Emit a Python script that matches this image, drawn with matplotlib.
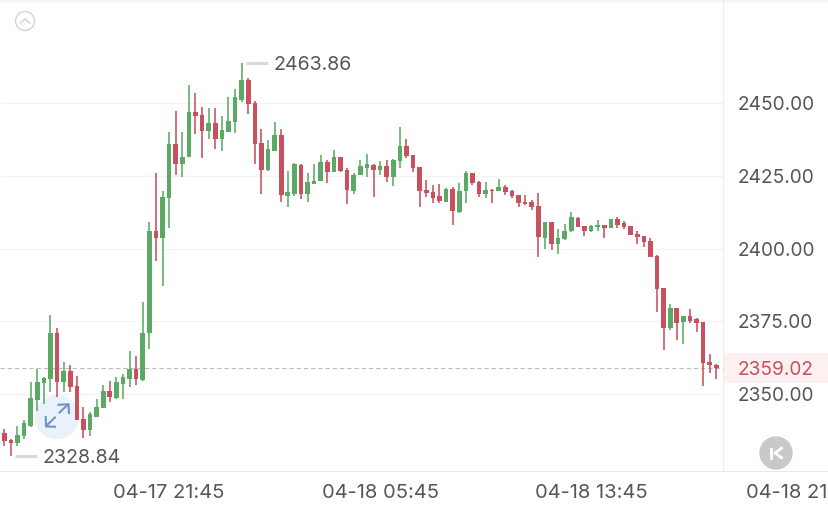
import matplotlib
matplotlib.use("Agg")
import matplotlib.pyplot as plt
from matplotlib.patches import Circle, Rectangle
import numpy as np

plt.rcParams['font.family'] = ['Inter', 'DejaVu Sans']

opens = [2336.7,2334.2,2333.1,2335.6,2339.1,2348.0,2353.9,2355.2,2370.9,2354.0,
         2358.0,2352.8,2341.3,2337.7,2342.2,2345.3,2351.1,2348.5,2353.6,2355.3,
         2358.6,2354.8,2370.8,2406.1,2403.7,2417.5,2435.9,2429.0,2431.3,2447.0,
         2445.9,2440.4,2443.2,2437.6,2440.1,2443.6,2451.2,2457.9,2449.9,2436.1,
         2427.0,2433.6,2439.0,2418.1,2418.9,2428.7,2418.7,2422.2,2423.1,2429.8,
         2426.2,2431.5,2427.0,2419.9,2425.1,2427.8,2428.7,2427.0,2428.4,2424.5,
         2429.9,2435.2,2432.0,2427.9,2420.1,2419.3,2417.9,2416.1,2420.5,2412.5,
         2419.6,2425.8,2423.0,2418.8,2420.1,2419.7,2421.1,2419.9,2418.3,2416.0,
         2415.9,2414.6,2403.7,2409.0,2401.4,2403.1,2406.0,2410.5,2407.6,2405.9,
         2407.5,2408.1,2407.0,2410.0,2408.6,2407.7,2405.1,2404.2,2402.7,2397.5,
         2386.4,2372.6,2379.4,2374.6,2376.9,2375.7,2374.7,2360.9,2360.1]
highs = [2337.9,2334.4,2339.1,2341.1,2354.1,2358.5,2355.9,2377.1,2372.6,2360.9,
         2360.0,2356.2,2345.4,2343.7,2348.2,2353.0,2354.5,2355.8,2356.9,2364.9,
         2363.1,2381.5,2409.1,2425.8,2419.9,2439.9,2447.4,2439.9,2456.2,2453.5,
         2448.5,2448.2,2448.2,2445.4,2451.9,2454.8,2463.86,2458.7,2450.8,2441.1,
         2437.3,2443.3,2441.1,2426.6,2429.3,2428.9,2425.8,2428.9,2432.1,2430.4,
         2433.9,2431.6,2427.6,2425.9,2430.5,2432.4,2429.0,2430.1,2430.4,2430.8,
         2441.7,2437.7,2432.2,2428.0,2423.6,2421.9,2422.2,2420.7,2421.3,2422.4,
         2426.7,2425.9,2423.2,2422.8,2420.4,2423.8,2421.9,2420.1,2418.5,2418.4,
         2416.7,2419.2,2409.2,2409.2,2406.8,2408.4,2412.4,2410.7,2407.7,2408.0,
         2409.8,2408.2,2410.1,2410.7,2409.6,2407.8,2406.1,2404.4,2403.7,2397.6,
         2386.5,2380.9,2379.5,2376.9,2379.3,2376.1,2374.9,2363.7,2360.2]
lows = [2332.3,2328.84,2332.2,2334.4,2338.8,2344.2,2346.6,2350.6,2348.9,2350.7,
        2350.8,2340.9,2335.0,2335.4,2342.0,2345.1,2347.4,2348.2,2348.2,2352.5,
        2353.0,2354.5,2365.4,2395.7,2387.1,2407.1,2425.2,2424.4,2431.3,2439.3,
        2431.0,2437.6,2434.2,2433.6,2440.1,2439.8,2450.4,2446.2,2428.9,2418.7,
        2426.7,2433.5,2416.1,2414.1,2418.1,2416.9,2416.1,2422.2,2423.1,2422.6,
        2426.2,2426.4,2415.3,2418.8,2425.1,2424.5,2417.6,2425.3,2422.9,2421.5,
        2427.8,2431.2,2426.4,2414.2,2417.6,2415.8,2415.5,2416.0,2408.0,2412.1,
        2415.5,2421.9,2417.6,2417.3,2415.8,2419.6,2418.3,2417.2,2414.2,2414.9,
        2413.2,2397.0,2399.8,2399.5,2398.1,2402.9,2405.8,2407.3,2404.4,2405.8,
        2406.0,2403.7,2406.9,2407.2,2406.8,2404.5,2401.4,2400.4,2397.0,2378.2,
        2365.1,2372.0,2368.6,2367.2,2374.5,2371.4,2352.9,2357.1,2355.0]
closes = [2333.9,2333.1,2335.8,2339.9,2348.5,2354.1,2355.6,2370.9,2354.0,2358.0,
          2352.5,2341.1,2337.7,2343.0,2345.7,2351.1,2348.9,2354.0,2355.8,2358.6,
          2355.2,2371.1,2406.1,2403.6,2417.6,2435.9,2429.0,2431.5,2447.0,2445.5,
          2440.5,2443.2,2437.6,2440.7,2443.8,2452.0,2457.9,2449.6,2435.9,2427.0,
          2434.2,2439.0,2418.4,2419.3,2428.9,2418.7,2422.7,2423.3,2429.6,2426.2,
          2431.6,2426.8,2420.1,2425.3,2428.2,2429.0,2427.0,2428.4,2424.5,2430.4,
          2435.2,2431.8,2427.6,2419.9,2419.0,2417.4,2416.2,2420.6,2413.0,2419.9,
          2426.1,2422.4,2418.8,2420.1,2419.9,2421.1,2419.3,2417.9,2415.8,2415.3,
          2414.1,2403.8,2409.0,2401.4,2403.6,2406.1,2410.7,2407.5,2406.1,2407.7,
          2408.2,2407.2,2410.0,2408.2,2407.3,2404.6,2403.9,2402.1,2397.1,2386.1,
          2372.8,2379.7,2374.5,2376.8,2375.1,2374.3,2360.5,2359.8,2359.02]

price_ticks = [2350.00, 2375.00, 2400.00, 2425.00, 2450.00]
last_price = 2359.02
time_positions = [25, 57, 89, 118.6]
time_labels = ['04-17 21:45', '04-18 05:45', '04-18 13:45', '04-18 21']

RED, GREEN = '#c9505f', '#5aaa66'
TXT = '#555759'
GRID = '#f3f3f3'
W, H = 829, 507
PX_STEP, PX_X0 = 6.593, 4.3       # pixels per candle, pixel of first candle
PX_UNIT, PX_2450 = 2.91, 103.0    # pixels per price unit, pixel row of 2450
AX_BOTTOM = 471
EDGE = (723 - PX_X0) / PX_STEP    # boundary of the price panel, in candles
FS_Y, FS_X, FS_MARK = 13.75, 14.5, 14.1

fig = plt.figure(figsize=(W / 100, H / 100), dpi=100, facecolor='white')
ax = fig.add_axes([0, (H - AX_BOTTOM) / H, 1, AX_BOTTOM / H])
ax.set_xlim(-PX_X0 / PX_STEP, (W - PX_X0) / PX_STEP)
ax.set_ylim(2450 - (AX_BOTTOM - PX_2450) / PX_UNIT, 2450 + PX_2450 / PX_UNIT)
ax.set_facecolor('none')
for s in ('top', 'left', 'right'):
    ax.spines[s].set_visible(False)
ax.spines['bottom'].set_color('#e9e9e9')
ax.spines['bottom'].set_linewidth(0.8)

o, h, l, c = map(np.array, (opens, highs, lows, closes))
xs = np.arange(len(o))
colors = [GREEN if b > a else RED for a, b in zip(o, c)]

ax.hlines(price_ticks, ax.get_xlim()[0], EDGE, color=GRID, lw=1, zorder=1)
ax.axvline(EDGE, color='#efefef', lw=1, zorder=1)

# last-price band and dashed line
ax.add_patch(Rectangle((EDGE + 0.2, last_price - 15 / PX_UNIT), 30, 30 / PX_UNIT,
                       color='#fdf0f1', lw=0, zorder=1))
ax.hlines(last_price, ax.get_xlim()[0], EDGE, color='#bdbdbd', lw=0.8,
          linestyles=(0, (4, 2.5)), zorder=1.5)

# expand button, under the candles
px = fig.add_axes([0, 0, 1, 1], facecolor='none', zorder=-1)
px.set_xlim(0, W); px.set_ylim(H, 0); px.axis('off')
px.add_patch(Rectangle((0, 0), W, 2.5, color='#f6f6f6', lw=0))
px.add_patch(Circle((57, 417), 22, color='#e9f1fb', lw=0))

ax.vlines(xs, l, h, colors=colors, lw=1.15, zorder=3)
ax.bar(xs, np.abs(c - o), bottom=np.minimum(o, c), width=0.7, color=colors, lw=0, zorder=4)

ax.yaxis.tick_right()
yt = price_ticks + [last_price]
ax.set_yticks(yt, [f'{v:.2f}' for v in yt])
# negative pad (points) brings the labels back inside the panel, starting at x = 737 px
ax.tick_params(axis='y', length=0, pad=-66, labelsize=FS_Y, labelcolor=TXT)
for lab in ax.get_yticklabels():
    lab.set_horizontalalignment('left')
    lab.set_verticalalignment('center_baseline')
ax.get_yticklabels()[-1].set_color(RED)
ax.set_xticks(time_positions, time_labels)
ax.tick_params(axis='x', length=0, pad=9, labelsize=FS_X, labelcolor=TXT)

# high and low markers
for idx, val in ((int(np.argmax(h)), h.max()), (int(np.argmin(l)), l.min())):
    ax.hlines(val, idx + 0.65, idx + 4, color='#d9d9d9', lw=2.3, zorder=2)
    ax.text(idx + 4.85, val, f'{val:.2f}', color=TXT, fontsize=FS_MARK,
            va='center_baseline', ha='left')

# icon overlay
top = fig.add_axes([0, 0, 1, 1], facecolor='none', zorder=5)
top.set_xlim(0, W); top.set_ylim(H, 0); top.axis('off')
top.add_patch(Circle((25, 21), 9.5, fill=False, ec='#cfcfcf', lw=0.9))
top.plot([20.5, 25, 29.5], [23, 19, 23], color='#c4c4c4', lw=0.8)
ARROW = '#7092c4'
top.plot([59.5, 68], [412.5, 404.5], color=ARROW, lw=1.5)
top.plot([58.5, 68.5, 69], [404.8, 404.3, 413], color=ARROW, lw=1.5)
top.plot([55, 46.5], [417.5, 425.5], color=ARROW, lw=1.5)
top.plot([45.7, 46, 55], [417, 426.5, 426.7], color=ARROW, lw=1.5)
top.add_patch(Circle((776, 453), 16.7, color='#c9c9c9', lw=0))
top.plot([771, 771], [448.5, 457.5], color='white', lw=2)
top.plot([781.5, 775, 781.5], [448.3, 453, 457.7], color='white', lw=2)

fig.savefig('out.png', dpi=100)
